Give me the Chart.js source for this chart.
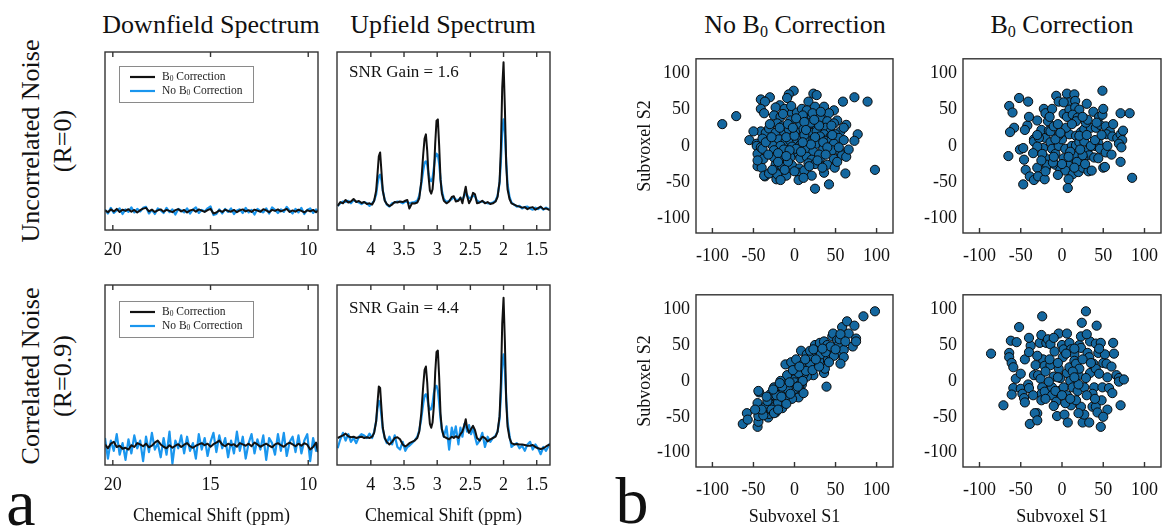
<!DOCTYPE html>
<html>
<head>
<meta charset="utf-8">
<script src="https://cdn.jsdelivr.net/npm/chart.js@4/dist/chart.umd.min.js"></script>
<style>
  body { margin: 0; width: 1164px; height: 529px; position: relative; overflow: hidden; background: #fff;
         font-family: 'Liberation Serif', 'Times New Roman', serif; color: #111; }
  .lbl { position: absolute; white-space: nowrap; transform: translate(-50%, -50%); font-size: 26px; }
  .rot { transform: translate(-50%, -50%) rotate(-90deg); }
  sub { font-size: 0.62em; vertical-align: -0.22em; line-height: 0; }
  canvas { position: absolute; }
</style>
</head>
<body>
<div class="lbl" style="left:211px;top:25px">Downfield Spectrum</div>
<div class="lbl" style="left:443px;top:25px">Upfield Spectrum</div>
<div class="lbl" style="left:795px;top:25px">No B<sub>0</sub> Correction</div>
<div class="lbl" style="left:1062px;top:25px">B<sub>0</sub> Correction</div>
<div class="lbl rot" style="left:31px;top:141px">Uncorrelated Noise</div>
<div class="lbl rot" style="left:63px;top:141px">(R=0)</div>
<div class="lbl rot" style="left:31px;top:376px">Correlated Noise</div>
<div class="lbl rot" style="left:63px;top:376px">(R=0.9)</div>
<div class="lbl" style="left:21px;top:503px;font-size:66px">a</div>
<div class="lbl" style="left:632px;top:501px;font-size:66px">b</div>

<script>
/* -------------------------------------------------------
   Data
------------------------------------------------------- */
const DOWN_TICKS = [20, 15, 10];
const UP_TICKS = [4, 3.5, 3, 2.5, 2, 1.5];
const S_TICKS = [-100, -50, 0, 50, 100];

const LEGEND_LABELS = ["B₀ Correction", "No B₀ Correction"];
const SNR_NOTES = ["SNR Gain = 1.6", "SNR Gain = 4.4"];

const DOWN_PPM = [20.40,20.25,20.10,19.95,19.80,19.65,19.50,19.35,19.20,19.05,18.90,18.75,18.60,18.45,18.30,18.15,18.00,17.85,17.70,17.55,17.40,17.25,17.10,16.95,16.80,16.65,16.50,16.35,16.20,16.05,15.90,15.75,15.60,15.45,15.30,15.15,15.00,14.85,14.70,14.55,14.40,14.25,14.10,13.95,13.80,13.65,13.50,13.35,13.20,13.05,12.90,12.75,12.60,12.45,12.30,12.15,12.00,11.85,11.70,11.55,11.40,11.25,11.10,10.95,10.80,10.65,10.50,10.35,10.20,10.05,9.90,9.75,9.60,9.50];

const DOWN_R0_B0 = [0.02,-0.05,0.06,-0.02,0.08,-0.04,0.05,0.00,0.07,-0.03,0.04,-0.06,0.03,0.09,0.12,-0.02,0.05,-0.04,0.02,0.06,-0.03,0.04,0.00,-0.05,0.03,0.07,-0.02,0.04,-0.06,0.02,0.05,-0.03,0.06,0.01,-0.04,0.03,0.08,-0.10,-0.06,0.02,-0.04,0.05,0.00,-0.03,0.04,-0.05,0.02,0.06,-0.02,0.03,-0.04,0.05,0.01,-0.03,0.07,0.02,-0.05,0.04,0.00,0.06,-0.02,0.03,0.08,-0.04,0.02,-0.03,0.05,0.00,-0.06,0.03,-0.02,0.04,-0.05,0.02];
const DOWN_R0_NOB0 = [0.05,-0.10,0.12,-0.08,0.02,0.10,-0.12,0.06,-0.04,0.14,-0.06,0.08,-0.02,0.12,0.16,-0.10,0.04,-0.12,0.10,0.02,-0.08,0.12,-0.05,0.06,-0.14,0.08,0.02,-0.06,0.10,-0.10,0.05,0.14,-0.08,0.04,-0.02,0.10,0.18,-0.16,-0.12,0.06,-0.10,0.08,-0.04,0.10,-0.12,0.02,0.06,-0.08,0.12,-0.06,0.04,-0.14,0.08,0.00,-0.06,0.10,-0.10,0.14,0.04,-0.08,0.06,-0.04,0.16,0.02,-0.10,0.08,-0.06,0.12,-0.12,0.04,0.10,-0.08,0.06,-0.02];
const DOWN_R9_B0 = [0.05,-0.10,0.08,0.15,-0.05,0.00,-0.12,-0.08,-0.15,0.02,-0.05,0.10,0.05,-0.02,0.08,-0.06,0.00,0.12,0.20,0.05,-0.04,-0.10,0.02,-0.08,0.00,0.06,-0.05,0.04,0.10,-0.02,-0.08,0.00,0.05,0.10,0.02,0.08,-0.04,0.06,0.12,0.20,0.04,-0.02,0.08,0.02,0.06,-0.04,0.10,0.05,0.00,0.08,-0.02,0.12,0.05,-0.04,0.02,0.08,0.00,-0.06,0.05,0.10,0.02,-0.04,0.06,0.12,0.05,-0.02,0.08,0.00,0.10,0.04,-0.15,-0.05,0.12,-0.25];
const DOWN_R9_NOB0 = [0.30,-0.50,0.20,-0.20,0.45,-0.35,0.10,-0.55,0.25,-0.30,0.40,-0.10,0.20,-0.60,0.35,-0.25,0.50,-0.15,0.10,-0.45,0.30,-0.35,0.55,-0.70,0.20,-0.10,0.40,-0.30,0.35,-0.20,0.10,-0.50,0.45,-0.15,0.30,-0.40,0.15,0.50,-0.25,0.40,-0.10,0.30,-0.45,0.20,-0.30,0.55,-0.20,0.35,-0.50,0.10,0.45,-0.30,0.25,-0.15,0.40,-0.55,0.30,0.10,-0.35,0.45,-0.20,0.50,-0.40,0.15,0.35,-0.25,0.40,-0.30,0.20,0.45,-0.60,0.30,-0.20,0.10];

const UP_PPM = [4.50,4.46,4.42,4.38,4.34,4.30,4.26,4.22,4.18,4.14,4.10,4.06,4.02,3.98,3.95,3.92,3.90,3.88,3.86,3.84,3.82,3.79,3.76,3.72,3.68,3.64,3.60,3.56,3.52,3.48,3.45,3.42,3.38,3.34,3.30,3.27,3.24,3.21,3.19,3.17,3.15,3.13,3.11,3.09,3.07,3.05,3.03,3.01,2.99,2.97,2.95,2.93,2.90,2.86,2.82,2.78,2.75,2.72,2.68,2.65,2.62,2.59,2.57,2.55,2.52,2.49,2.46,2.43,2.40,2.36,2.32,2.28,2.24,2.20,2.16,2.12,2.09,2.06,2.04,2.02,2.00,1.98,1.96,1.94,1.91,1.88,1.84,1.80,1.76,1.72,1.68,1.64,1.60,1.56,1.52,1.48,1.44,1.40,1.36,1.32,1.30];

const UP_R0_B0 = [-0.05,0.10,0.05,0.18,0.08,0.12,0.22,0.10,0.14,0.06,0.10,0.02,0.05,0.00,0.15,0.55,1.20,1.90,2.05,1.30,0.55,0.15,0.02,-0.06,0.00,0.10,0.08,0.12,0.10,0.15,0.18,-0.16,0.05,0.04,0.08,0.25,0.90,2.00,2.60,2.76,2.10,1.10,0.55,0.43,0.60,1.20,2.40,3.30,3.35,2.30,1.00,0.45,0.15,0.05,0.12,0.30,0.33,0.12,0.15,0.28,0.05,0.45,0.70,0.35,0.05,0.20,0.46,0.40,0.05,0.08,0.15,0.05,0.10,0.02,0.05,0.12,0.30,0.90,2.20,4.60,5.60,3.80,1.60,0.60,0.22,0.05,0.00,-0.05,-0.08,-0.12,-0.10,-0.18,-0.12,-0.10,-0.20,-0.14,-0.08,-0.18,-0.15,-0.20,-0.22];
const UP_R0_NOB0 = [-0.05,0.05,0.12,0.10,0.15,0.05,0.18,0.12,0.08,0.02,0.10,0.05,-0.05,0.05,0.15,0.40,0.80,1.10,1.18,0.95,0.55,0.18,0.00,-0.08,0.05,0.08,0.12,0.10,0.05,0.12,0.10,0.05,0.08,0.10,0.15,0.35,0.80,1.35,1.65,1.70,1.55,1.20,0.98,0.92,1.05,1.45,1.85,2.00,1.95,1.60,1.00,0.55,0.22,0.10,0.15,0.22,0.28,0.20,0.18,0.25,0.20,0.35,0.45,0.38,0.25,0.28,0.35,0.32,0.15,0.10,0.12,0.08,0.05,0.05,0.08,0.15,0.35,0.85,1.70,2.90,3.35,2.80,1.70,0.80,0.30,0.08,0.00,-0.08,-0.05,-0.15,-0.10,-0.08,-0.15,-0.20,-0.12,-0.18,-0.10,-0.20,-0.12,-0.18,-0.15];
const UP_R9_B0 = [0.05,0.10,0.15,0.22,0.12,0.08,0.10,0.05,0.08,0.10,0.05,0.08,0.05,0.10,0.25,0.70,1.40,2.05,2.00,1.20,0.45,0.05,-0.10,-0.20,-0.10,0.05,0.08,0.00,-0.20,-0.28,-0.22,-0.15,-0.10,-0.05,0.05,0.30,1.00,2.10,2.70,2.83,2.20,1.20,0.60,0.45,0.65,1.30,2.60,3.40,3.45,2.40,1.00,0.40,0.10,0.05,0.00,0.10,0.05,0.12,0.05,0.20,0.30,0.55,0.78,0.45,0.25,0.40,0.52,0.35,0.05,-0.05,0.10,0.05,-0.08,0.00,0.05,0.10,0.30,0.90,2.20,4.50,5.50,3.80,1.50,0.50,0.05,-0.15,-0.20,-0.18,-0.20,-0.20,-0.22,-0.25,-0.25,-0.22,-0.30,-0.35,-0.38,-0.35,-0.28,-0.22,-0.20];
const UP_R9_NOB0 = [-0.35,0.00,0.25,-0.05,0.20,-0.10,0.05,-0.15,0.10,0.20,0.15,0.05,0.22,0.05,0.30,0.70,1.20,1.50,1.40,0.90,0.40,0.05,-0.15,0.10,-0.20,0.15,-0.30,-0.40,-0.10,-0.45,-0.30,-0.25,-0.15,-0.05,0.10,0.35,0.80,1.40,1.70,1.75,1.60,1.30,1.15,1.17,1.40,1.80,2.05,2.08,1.90,1.40,0.80,0.40,0.10,0.50,-0.40,0.45,0.10,0.50,-0.20,0.45,0.10,0.60,0.55,0.30,0.55,0.20,0.45,0.10,-0.20,-0.05,0.25,-0.30,0.10,-0.10,0.05,0.15,0.30,0.80,1.70,2.90,3.30,2.70,1.60,0.70,0.15,-0.30,-0.20,-0.15,-0.35,-0.25,-0.45,-0.20,-0.10,-0.40,-0.20,-0.35,-0.58,-0.30,-0.45,-0.25,-0.15];

// subvoxel signal pairs [S1, S2]
const SC_R0_NOB0 = [[-88,30],[-71,41],[-55,8],[-41,64],[-30,67],[-36,61],[-41,51],[-37,45],[-46,3],[-46,0],[-45,-11],[-45,-28],[-40,-30],[-36,-42],[-29,-37],[-23,-30],[-22,-46],[-18,-42],[-12,-35],[-10,-41],
  [-1,76],[-7,71],[-9,66],[23,72],[27,70],[17,61],[-18,56],[-23,53],[-12,51],[-3,45],[3,46],[9,51],[15,49],[25,54],[36,54],[48,49],[59,61],[73,67],[89,61],[36,42],[42,45],[52,35],[63,29],[77,16],[73,7],
  [-25,42],[-17,40],[5,36],[15,38],[21,40],[31,38],[40,34],[48,31],[-21,31],[-15,27],[7,29],[17,27],[27,27],[38,25],[44,20],[56,20],
  [-41,20],[-35,18],[-31,24],[-23,18],[-13,20],[-7,23],[1,20],[11,23],[19,18],[27,20],[36,16],[44,13],[50,16],
  [-39,10],[-29,8],[-19,9],[-11,6],[-5,7],[3,9],[9,11],[15,7],[23,9],[31,13],[38,7],[45,8],[54,11],[60,8],
  [-41,-2],[-27,1],[-17,0],[-3,-1],[7,1],[17,-2],[27,3],[36,0],[48,3],
  [-39,-4],[-25,-6],[-13,-5],[-1,-9],[5,-11],[15,-5],[23,-8],[35,-4],[46,-6],[56,-9],
  [-38,-18],[-25,-16],[-16,-19],[-5,-16],[7,-17],[15,-15],[21,-19],[32,-16],[48,-18],[58,-13],[63,-15],
  [-23,-26],[-15,-28],[-3,-27],[6,-31],[17,-24],[25,-25],[36,-28],[40,-26],[49,-30],
  [5,-37],[12,-34],[21,-41],[36,-37],[62,-38],[-37,-41],[-31,-38],[-21,-39],[-17,-47],[5,-47],[11,-44],[42,-53],[25,-59],[98,-33],
  [-30,30],[-5,35],[10,42],[20,32],[30,28],[-10,12],[0,14],[12,15],[25,12],[35,5],[-20,-10],[-8,-22],[2,-4],[18,-28],[30,-12],[40,-2],[-35,5],[52,-22],[45,28],[-12,-33],
  [-28,12],[-18,25],[-8,30],[2,38],[12,33],[22,45],[32,47],[-32,-12],[-20,-22],[-6,-6],[8,-8],[20,2],[28,-20],[38,-12],[46,15],[54,-2],[-14,44],[-4,55],[14,22],[24,36],
  [34,-30],[-27,-33],[-10,-14],[0,-35],[10,5],[-45,-20],[60,25],[66,-5],[-50,20],[-2,25]];

const SC_R0_B0 = [[-64,55],[-60,46],[-58,25],[-63,19],[-65,-14],[-52,66],[-41,61],[-42,28],[-45,22],[-51,-5],[-47,-3],[-34,9],[-34,6],[-46,-19],[-44,-33],[-47,-53],[-39,-42],[-34,-47],[-30,-30],[-29,-42],
  [-21,-46],[-23,-3],[-20,-17],[-19,-30],[-18,-26],[-25,22],[-20,11],[-22,51],[-20,45],[-12,51],[-7,69],[-4,61],[-17,34],[-16,21],[-14,5],[-12,-4],[-8,-11],[-8,-26],[-11,-23],[-2,-33],
  [-4,0],[0,9],[-4,15],[2,44],[6,72],[9,60],[15,71],[16,62],[9,50],[16,53],[21,50],[6,40],[13,43],[19,39],[4,20],[9,16],[17,14],[23,19],[27,23],[35,25],
  [4,-4],[12,0],[17,1],[21,5],[27,6],[31,-6],[33,-13],[11,-17],[17,-14],[26,-17],[8,-27],[4,-34],[13,-39],[20,-36],[25,-30],[32,-35],[36,-34],[8,-46],[7,-58],
  [17,34],[29,32],[31,36],[38,47],[45,40],[49,43],[50,51],[49,76],[41,25],[46,29],[53,27],[58,20],[54,16],[61,13],[67,11],[71,16],[74,21],[73,8],[69,3],[72,-2],
  [44,4],[40,0],[46,-4],[39,-16],[44,-17],[50,-30],[52,-29],[53,-9],[71,-22],[71,45],[82,45],[85,-44],
  [-14,20],[-28,11],[-30,-1],[-24,-11],[-8,9],[-10,27],[25,-13],[21,14],[2,-17],[2,60],
  [-30,35],[-15,40],[-5,30],[5,25],[12,30],[25,40],[30,15],[35,0],[-10,-15],[0,-25],[10,-8],[18,-22],[28,-25],[-25,-20],[-35,-10],[-5,-40],[15,-30],[40,8],[55,0],[60,-12],
  [-40,40],[-20,-35],[30,58],[8,-15],[-2,18],[22,-5],[42,32],[-30,15],[48,15],[62,30]];

const SC_R9_NOB0 = [[-63,-60],[-58,-45],[-57,-54],[-45,-64],[-44,-57],[-44,-49],[-45,-31],[-43,-16],[-44,-14],[-37,-39],[-32,-51],[-31,-46],[-30,-39],[-29,-27],[-29,-18],[-27,-31],[-24,-36],[-21,-23],[-20,-14],[-23,-44],
  [-17,-29],[-15,-38],[-12,-9],[-11,-3],[-9,-23],[-7,-15],[-6,4],[-3,-5],[-2,-9],[0,9],[3,-18],[5,-23],[7,-11],[9,-5],[11,-17],[-11,23],[-4,26],[2,30],[5,15],[9,17],
  [8,42],[15,37],[17,28],[15,22],[19,9],[23,8],[21,18],[24,24],[27,33],[28,40],[25,50],[31,53],[36,55],[40,50],[39,-8],[36,11],[34,22],[37,17],[40,30],[42,46],
  [44,37],[46,62],[47,66],[52,57],[48,46],[52,38],[54,50],[55,58],[58,75],[60,43],[60,33],[56,24],[64,83],[66,66],[73,77],[71,48],[75,59],[84,90],[98,97],[75,55],
  [15,6],[11,9],[3,2],[-1,2],[-9,8],[-17,0],[-19,-7],[-25,-9],[-31,-23],[-26,-20],[-14,-17],[-3,-25],[1,-11],[5,11],[11,24],[19,24],[21,35],[30,28],[32,37],[48,35],
  [42,26],[19,42],[13,30],[23,44],
  [-35,-35],[-28,-40],[-20,-30],[-33,-28],[-22,-20],[-12,-25],[-8,-12],[-15,-8],[-5,-18],[0,-2],[6,-6],[10,0],[-18,-3],[-10,-32],[-25,-45],[-38,-48],
  [-40,-40],[-34,-22],[-26,-12],[-16,-22],[-6,-2],[4,-8],[14,14],[22,15],[30,20],[38,40],[44,48],[50,44],[56,65],[62,55],[-48,-40],[-2,15],[6,20],[26,30],[34,45],[-20,-40]];

const SC_R9_B0 = [[-86,38],[-71,-34],[-64,39],[-64,33],[-61,25],[-59,19],[-62,56],[-55,54],[-56,3],[-59,-10],[-61,-19],[-50,-11],[-48,-18],[-46,-24],[-52,75],[-45,30],[-41,-5],[-40,-10],[-38,49],[-39,-60],
  [-34,8],[-32,22],[-30,-45],[-33,-45],[-29,8],[-27,53],[-26,3],[-25,64],[-24,90],[-23,30],[-21,21],[-24,-9],[-25,-18],[-25,-27],[-21,-15],[-19,53],[-17,58],[-14,51],[-14,22],[-12,-9],
  [-12,-20],[-10,6],[-9,41],[-7,-29],[-6,-49],[-4,66],[-4,17],[-3,-14],[-2,4],[0,50],[2,44],[1,33],[2,-9],[3,-47],[6,66],[7,-58],[6,-20],[6,11],[9,53],[11,44],
  [9,19],[10,0],[11,-34],[13,-9],[15,37],[15,28],[17,24],[19,-14],[20,8],[21,50],[21,17],[23,46],[23,62],[24,81],[23,-36],[25,-58],[27,-47],[27,-9],[29,97],[31,39],
  [33,33],[34,55],[34,11],[33,-58],[37,-36],[38,24],[39,-9],[41,-36],[41,52],[42,77],[43,-44],[44,39],[47,53],[48,-27],[47,-64],[49,-9],[50,25],[52,37],[54,24],[55,-40],
  [57,-10],[61,-17],[62,53],[63,38],[66,8],[69,4],[71,-34],[69,-1],[75,2],[41,17],[-8,-14],[-20,13],[13,13],[29,4],[37,-18],[-16,-1],[4,-31],[17,-27],
  [-40,40],[-30,35],[-15,30],[-5,25],[5,38],[15,45],[25,30],[35,25],[45,10],[55,5],[-45,-30],[-35,-20],[-20,-25],[-10,-35],[0,-20],[10,-25],[20,-5],[30,-20],[40,-25],[50,-50],
  [-50,10],[-5,5],[15,5],[30,65],[-10,60],[45,45],[60,20],[-30,-55],[20,-45],[-40,60]];

/* -------------------------------------------------------
   Styling
------------------------------------------------------- */
const FONT = "'Liberation Serif', 'Times New Roman', serif";
const BLACK = "#111111";
const BLUE = "#1a96ee";
const DOT = "#14679f";
const FRAME = "#333333";

// draws "B₀" style text with a real subscript
function drawRich(ctx, text, x, y, size) {
    let cx = x;
    for (const part of text.split(/(₀)/)) {
        if (!part) continue;
        if (part === "₀") {
            ctx.font = `${size * 0.65}px ${FONT}`;
            ctx.fillText("0", cx, y + size * 0.22);
            cx += ctx.measureText("0").width;
        } else {
            ctx.font = `${size}px ${FONT}`;
            ctx.fillText(part, cx, y);
            cx += ctx.measureText(part).width;
        }
    }
}

/* -------------------------------------------------------
   Frame, inward ticks, legend, note
------------------------------------------------------- */
const framePlugin = {
    id: "frame",
    afterDraw(chart, args, opts) {
        const { ctx, chartArea: a } = chart;
        const xs = chart.scales.x;
        ctx.save();
        ctx.strokeStyle = FRAME;
        ctx.lineWidth = 1.4;
        ctx.strokeRect(a.left, a.top, a.right - a.left, a.bottom - a.top);
        ctx.beginPath();
        xs.ticks.forEach(t => {
            const px = xs.getPixelForValue(t.value);
            ctx.moveTo(px, a.bottom);
            ctx.lineTo(px, a.bottom - 5);
            if (opts.topTicks) {
                ctx.moveTo(px, a.top);
                ctx.lineTo(px, a.top + 5);
            }
        });
        ctx.stroke();

        if (opts.legend) {
            const lx = a.left + 14, ly = a.top + opts.legendTop;
            ctx.fillStyle = "#fff";
            ctx.fillRect(lx, ly, 134, 36);
            ctx.strokeStyle = "#8a8a8a";
            ctx.lineWidth = 1;
            ctx.strokeRect(lx + 0.5, ly + 0.5, 134, 36);
            chart.data.datasets.forEach((ds, i) => {
                const yy = ly + 11 + i * 14;
                ctx.strokeStyle = ds.borderColor;
                ctx.lineWidth = 2.2;
                ctx.beginPath();
                ctx.moveTo(lx + 11, yy);
                ctx.lineTo(lx + 36, yy);
                ctx.stroke();
                ctx.fillStyle = "#222";
                ctx.textBaseline = "middle";
                drawRich(ctx, ds.label, lx + 43, yy, 11.5);
            });
        }
        if (opts.note) {
            ctx.fillStyle = "#111";
            ctx.textBaseline = "middle";
            ctx.font = `17px ${FONT}`;
            ctx.fillText(opts.note, a.left + 12, a.top + opts.noteY);
        }
        ctx.restore();
    }
};

function placeCanvas(left, top, width, height) {
    const c = document.createElement("canvas");
    c.width = width;
    c.height = height;
    c.style.left = left + "px";
    c.style.top = top + "px";
    document.body.appendChild(c);
    return c;
}

function fixedTicks(values) {
    return scale => { scale.ticks = values.map(v => ({ value: v })); };
}

/* -------------------------------------------------------
   Spectrum panel
------------------------------------------------------- */
function spectrum(box, ppm, black, blue, cfg) {
    const padX = 25, padT = 5;
    const c = placeCanvas(box.l - padX, box.t - padT, box.w + 2 * padX, box.h + padT + cfg.bottomH);
    const toPts = vals => ppm.map((x, i) => ({ x, y: vals[i] })).filter(p => p.y !== undefined);

    new Chart(c, {
        type: "line",
        data: {
            datasets: [
                { label: LEGEND_LABELS[0], data: toPts(black), borderColor: BLACK, borderWidth: 2 },
                { label: LEGEND_LABELS[1], data: toPts(blue), borderColor: BLUE, borderWidth: 2.2 }
            ]
        },
        options: {
            responsive: false,
            animation: false,
            events: [],
            layout: { padding: { left: padX, right: padX, top: padT, bottom: 0 } },
            elements: { point: { radius: 0 }, line: { tension: 0, borderJoinStyle: "round" } },
            plugins: {
                legend: { display: false },
                tooltip: { enabled: false },
                frame: { topTicks: true, legend: cfg.legend, legendTop: cfg.legendTop, note: cfg.note, noteY: cfg.noteY }
            },
            scales: {
                x: {
                    type: "linear",
                    reverse: true,
                    min: cfg.min,
                    max: cfg.max,
                    afterBuildTicks: fixedTicks(cfg.ticks),
                    afterFit: s => { s.height = cfg.bottomH; },
                    grid: { display: false, drawTicks: false },
                    border: { display: false },
                    ticks: { padding: 9, color: "#111", font: { family: FONT, size: 18 }, callback: v => String(v) },
                    title: { display: !!cfg.title, text: cfg.title, color: "#111",
                             font: { family: FONT, size: 18 }, padding: { top: 0, bottom: 8 } }
                },
                y: { display: false, min: cfg.ymin, max: cfg.ymin + 7 }
            }
        },
        plugins: [framePlugin]
    });
}

/* -------------------------------------------------------
   Scatter panel
------------------------------------------------------- */
function scatter(box, pts, cfg) {
    const padL = 70, padT = 10, padR = 12;
    const c = placeCanvas(box.l - padL, box.t - padT, padL + box.w + padR, padT + box.h + cfg.bottomH);

    new Chart(c, {
        type: "scatter",
        data: {
            datasets: [{
                data: pts.map(([x, y]) => ({ x, y })),
                backgroundColor: DOT,
                borderColor: "#0a0a0a",
                borderWidth: 1,
                pointRadius: 4.6
            }]
        },
        options: {
            responsive: false,
            animation: false,
            events: [],
            layout: { padding: { left: 0, right: padR, top: padT, bottom: 0 } },
            plugins: { legend: { display: false }, tooltip: { enabled: false }, frame: { topTicks: false } },
            scales: {
                x: {
                    min: -120, max: 120,
                    afterBuildTicks: fixedTicks(S_TICKS),
                    afterFit: s => { s.height = cfg.bottomH; },
                    grid: { display: false, drawTicks: false },
                    border: { display: false },
                    ticks: { padding: 12, color: "#111", font: { family: FONT, size: 18 }, callback: v => String(v) },
                    title: { display: cfg.xTitle, text: "Subvoxel S1", color: "#111",
                             font: { family: FONT, size: 18 }, padding: { top: 0, bottom: 9 } }
                },
                y: {
                    min: -120, max: 120,
                    afterBuildTicks: fixedTicks(S_TICKS),
                    afterFit: s => { s.width = padL; },
                    grid: { display: false, drawTicks: false },
                    border: { display: false },
                    ticks: { padding: 6, color: "#111", font: { family: FONT, size: 18 }, callback: v => String(v) },
                    title: { display: cfg.yTitle, text: "Subvoxel S2", color: "#111",
                             font: { family: FONT, size: 18 }, padding: { top: 8, bottom: 0 } }
                }
            }
        },
        plugins: [framePlugin]
    });
}

/* -------------------------------------------------------
   Build all panels
------------------------------------------------------- */
const downCfg = { min: 9.5, max: 20.4, ticks: DOWN_TICKS, ymin: -0.75, legend: true };
const upCfg = { min: 1.3, max: 4.51, ticks: UP_TICKS, ymin: -1, noteY: 21 };

spectrum({ l: 105, t: 52, w: 213, h: 178 }, DOWN_PPM, DOWN_R0_B0, DOWN_R0_NOB0,
    { ...downCfg, bottomH: 40, legendTop: 14 });
spectrum({ l: 337, t: 52, w: 213, h: 178 }, UP_PPM, UP_R0_B0, UP_R0_NOB0,
    { ...upCfg, bottomH: 40, note: SNR_NOTES[0] });
spectrum({ l: 105, t: 285, w: 213, h: 180 }, DOWN_PPM, DOWN_R9_B0, DOWN_R9_NOB0,
    { ...downCfg, bottomH: 70, legendTop: 16, title: "Chemical Shift (ppm)" });
spectrum({ l: 337, t: 285, w: 213, h: 180 }, UP_PPM, UP_R9_B0, UP_R9_NOB0,
    { ...upCfg, bottomH: 70, note: SNR_NOTES[1], noteY: 24, title: "Chemical Shift (ppm)" });

scatter({ l: 696, t: 52, w: 197, h: 181 }, SC_R0_NOB0, { bottomH: 40, xTitle: false, yTitle: true });
scatter({ l: 963, t: 52, w: 198, h: 181 }, SC_R0_B0, { bottomH: 40, xTitle: false, yTitle: false });
scatter({ l: 696, t: 288, w: 197, h: 179 }, SC_R9_NOB0, { bottomH: 70, xTitle: true, yTitle: true });
scatter({ l: 963, t: 288, w: 198, h: 179 }, SC_R9_B0, { bottomH: 70, xTitle: true, yTitle: false });
</script>
</body>
</html>
